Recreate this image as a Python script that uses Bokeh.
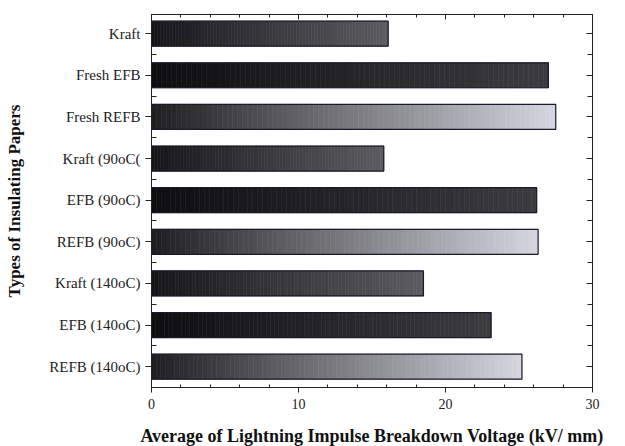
import numpy as np
from bokeh.plotting import figure
from bokeh.models import Range1d, FixedTicker, LinearAxis, ColumnDataSource
from bokeh.embed import file_html
from bokeh.resources import INLINE

# ---- data ----
papers = ["Kraft", "Fresh EFB", "Fresh REFB", "Kraft (90oC(", "EFB (90oC)",
          "REFB (90oC)", "Kraft (140oC)", "EFB (140oC)", "REFB (140oC)"]
voltage = [16.1, 27.0, 27.5, 15.8, 26.2, 26.3, 18.5, 23.1, 25.2]
paper_kind = ["Kraft", "EFB", "REFB", "Kraft", "EFB", "REFB", "Kraft", "EFB", "REFB"]
x_ticks = [0, 10, 20, 30]

# ---- styling: gradient start / end colours per paper kind ----
grad = {
    "Kraft": ((22, 22, 24), (92, 92, 96)),
    "EFB": ((14, 14, 16), (60, 60, 64)),
    "REFB": ((30, 30, 32), (214, 214, 224)),
}
FONT = "Liberation Serif"
N = 80

pos = list(range(len(papers)))
minor_x = [t for t in range(0, 31, 2) if t % 10]
minor_y = [i + 0.5 for i in pos[:-1]]

rows = dict(y=[], left=[], right=[], color=[])
for i, (v, k) in enumerate(zip(voltage, paper_kind)):
    c0, c1 = np.array(grad[k][0], float), np.array(grad[k][1], float)
    edges = np.linspace(0, v, N + 1)
    for j in range(N):
        t = (j + 0.5) / N
        c = (c0 + (c1 - c0) * t).round().astype(int)
        rows["y"].append(i)
        rows["left"].append(edges[j])
        rows["right"].append(edges[j + 1])
        rows["color"].append("#%02x%02x%02x" % tuple(c))
slices = ColumnDataSource(rows)
bars = ColumnDataSource(dict(y=pos, right=voltage))

p = figure(frame_width=441, frame_height=373, output_backend="svg", toolbar_location=None,
           x_range=Range1d(0, 30), y_range=Range1d(8.5, -0.46),
           min_border_left=151, min_border_top=14, min_border_right=25, min_border_bottom=10,
           background_fill_color="white", border_fill_color="white")
p.outline_line_color = "#222222"
p.outline_line_width = 1
p.xgrid.visible = False
p.ygrid.visible = False

p.hbar(y="y", left="left", right="right", height=0.6, source=slices,
       fill_color="color", line_color="color", line_width=0.6)
p.hbar(y="y", left=0, right="right", height=0.6, source=bars,
       fill_color=None, line_color="#1a1a2e", line_width=1.2)

# bottom axis
xa = p.xaxis[0]
xa.ticker = FixedTicker(ticks=x_ticks, minor_ticks=minor_x)
xa.axis_label = "Average of Lightning Impulse Breakdown Voltage (kV/ mm)"
xa.axis_label_text_font = FONT
xa.axis_label_text_font_style = "bold"
xa.axis_label_text_font_size = "18px"
xa.axis_label_text_color = "#111111"
xa.axis_label_standoff = 14
xa.major_label_text_font = FONT
xa.major_label_text_font_size = "14px"
xa.major_label_text_color = "#222222"
xa.major_label_standoff = 6
xa.major_tick_out = 5
xa.major_tick_in = 0
xa.minor_tick_in = 3
xa.minor_tick_out = 0
xa.axis_line_color = "#222222"
xa.major_tick_line_color = "#222222"
xa.minor_tick_line_color = "#222222"

# left axis
ya = p.yaxis[0]
ya.ticker = FixedTicker(ticks=pos, minor_ticks=minor_y)
ya.major_label_overrides = {i: s for i, s in zip(pos, papers)}
ya.axis_label = "Types of Insulating Papers"
ya.axis_label_text_font = FONT
ya.axis_label_text_font_style = "bold"
ya.axis_label_text_font_size = "17px"
ya.axis_label_text_color = "#111111"
ya.axis_label_standoff = 22
ya.major_label_text_font = FONT
ya.major_label_text_font_size = "15px"
ya.major_label_text_color = "#222222"
ya.major_label_standoff = 5
ya.major_tick_out = 6
ya.major_tick_in = 0
ya.minor_tick_in = 5
ya.minor_tick_out = 0
ya.axis_line_color = "#222222"
ya.major_tick_line_color = "#222222"
ya.minor_tick_line_color = "#222222"

# top axis (ticks only, labels not drawn)
top = LinearAxis(ticker=FixedTicker(ticks=x_ticks, minor_ticks=minor_x),
                 major_label_text_font_size="1px", major_label_text_color=None,
                 major_label_standoff=0,
                 major_tick_in=5, major_tick_out=0, minor_tick_in=3, minor_tick_out=0,
                 axis_line_color="#222222", major_tick_line_color="#222222",
                 minor_tick_line_color="#222222")
p.add_layout(top, "above")

# right axis (ticks only, labels not drawn)
right = LinearAxis(ticker=FixedTicker(ticks=pos, minor_ticks=minor_y),
                   major_label_text_font_size="1px", major_label_text_color=None,
                   major_label_standoff=0,
                   major_tick_in=6, major_tick_out=0, minor_tick_in=5, minor_tick_out=0,
                   axis_line_color="#222222", major_tick_line_color="#222222",
                   minor_tick_line_color="#222222")
p.add_layout(right, "right")

open("out.html", "w").write(file_html(p, INLINE))
